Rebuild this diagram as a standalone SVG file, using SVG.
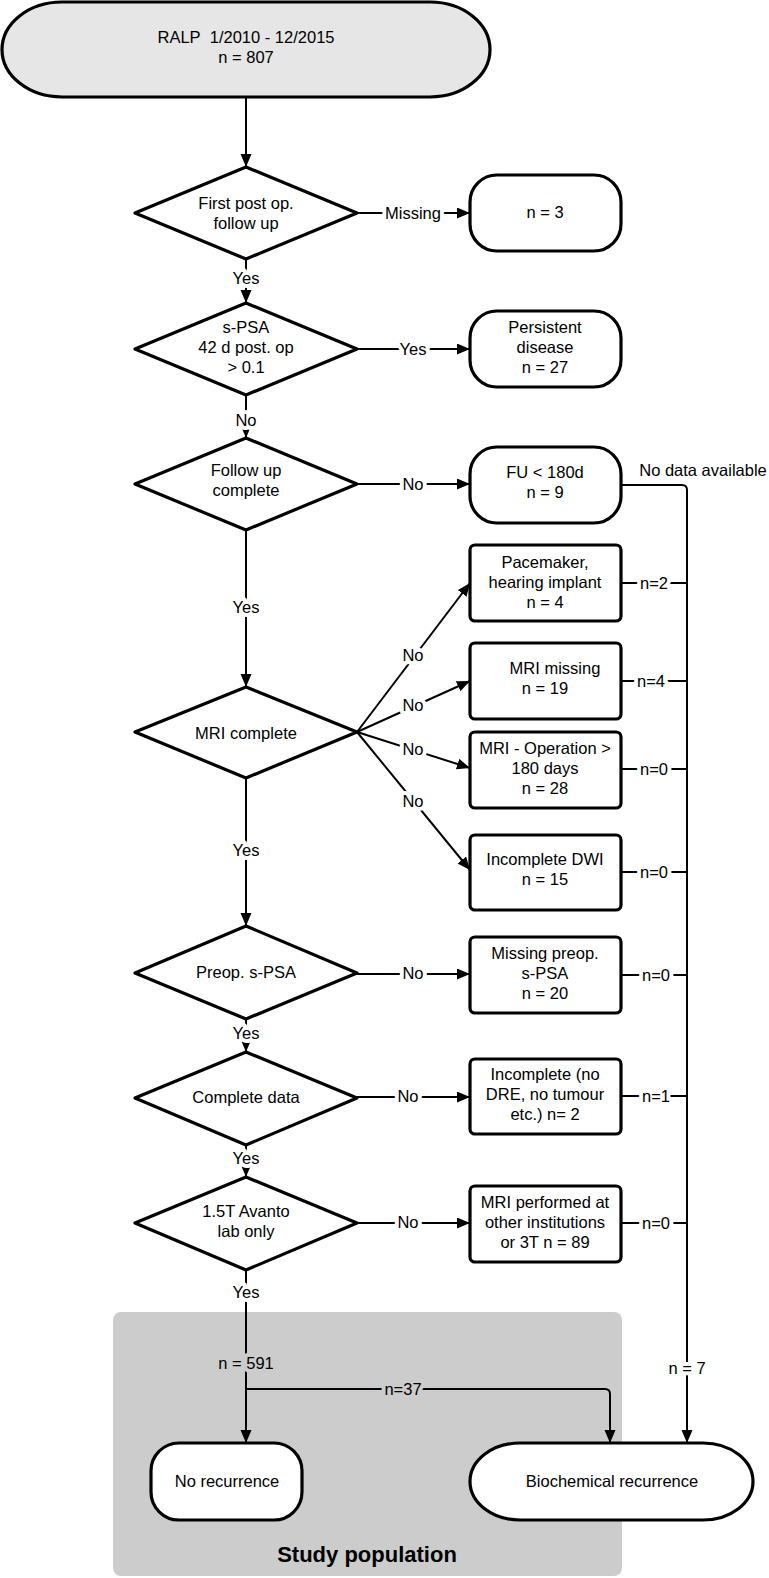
<svg xmlns="http://www.w3.org/2000/svg" width="769" height="1578" viewBox="0 0 769 1578">
<style>
.nd{fill:#fff;stroke:#000;stroke-width:3.2;stroke-linejoin:round}
.t{font-family:"Liberation Sans",Arial,sans-serif;font-size:16.5px;fill:#000;text-anchor:middle}
.c{fill:none;stroke:#000;stroke-width:2}
.l{font-family:"Liberation Sans",Arial,sans-serif;font-size:16.5px;fill:#000;text-anchor:middle;paint-order:stroke;stroke:#fff;stroke-width:8;stroke-linejoin:round}
.lg{stroke:#ccc}
</style>
<defs>
<marker id="ah" markerUnits="userSpaceOnUse" markerWidth="14" markerHeight="12" refX="13" refY="5.5" orient="auto" viewBox="0 0 14 12">
<path d="M0,0 L13,5.5 L0,11 z" fill="#000"/>
</marker>
</defs>
<rect id="study-population" x="113" y="1312" width="509" height="264" rx="8" fill="#ccc"/>
<g id="connectors">
<path class="c" d="M246,98 V167" stroke-width="3.2" marker-end="url(#ah)"/>
<path class="c" d="M357,213 H470" marker-end="url(#ah)"/>
<path class="c" d="M246,259 V303" marker-end="url(#ah)"/>
<path class="c" d="M357,349 H470" marker-end="url(#ah)"/>
<path class="c" d="M246,395 V438" marker-end="url(#ah)"/>
<path class="c" d="M357,484 H470" marker-end="url(#ah)"/>
<path class="c" d="M246,530 V687" marker-end="url(#ah)"/>
<path class="c" d="M357,732 L470,583" marker-end="url(#ah)"/>
<path class="c" d="M357,732 L470,681" marker-end="url(#ah)"/>
<path class="c" d="M357,732 L470,768" marker-end="url(#ah)"/>
<path class="c" d="M357,732 L470,870" marker-end="url(#ah)"/>
<path class="c" d="M246,778 V926" marker-end="url(#ah)"/>
<path class="c" d="M357,974 H470" marker-end="url(#ah)"/>
<path class="c" d="M246,1019 V1052" marker-end="url(#ah)"/>
<path class="c" d="M357,1097 H470" marker-end="url(#ah)"/>
<path class="c" d="M246,1145 V1177" marker-end="url(#ah)"/>
<path class="c" d="M357,1223 H470" marker-end="url(#ah)"/>
<path class="c" d="M246,1270 V1443" marker-end="url(#ah)"/>
<path class="c" d="M246,1389 H605 Q610,1389 610,1394 V1443" marker-end="url(#ah)"/>
<path class="c" d="M621,485 H682 Q687,485 687,490 V1443" marker-end="url(#ah)"/>
<path class="c" d="M621,583 H687 M621,681 H687 M621,769 H687 M621,872 H687 M621,975 H687 M621,1096 H687 M621,1223 H687"/>
<text class="l" x="413" y="219">Missing</text>
<text class="l" x="246" y="284">Yes</text>
<text class="l" x="413" y="355">Yes</text>
<text class="l" x="246" y="426">No</text>
<text class="l" x="413" y="490">No</text>
<text class="l" x="246" y="613">Yes</text>
<text class="l" x="413" y="661">No</text>
<text class="l" x="413" y="711">No</text>
<text class="l" x="413" y="755">No</text>
<text class="l" x="413" y="807">No</text>
<text class="l" x="246" y="856">Yes</text>
<text class="l" x="413" y="979">No</text>
<text class="l" x="246" y="1039">Yes</text>
<text class="l" x="408" y="1102">No</text>
<text class="l" x="246" y="1164">Yes</text>
<text class="l" x="408" y="1228">No</text>
<text class="l" x="246" y="1298">Yes</text>
<text class="l lg" x="246" y="1369">n = 591</text>
<text class="l lg" x="403" y="1395">n=37</text>
<text class="l" x="687" y="1374">n = 7</text>
<text class="l" x="654" y="589">n=2</text>
<text class="l" x="651" y="687">n=4</text>
<text class="l" x="654" y="775">n=0</text>
<text class="l" x="654" y="878">n=0</text>
<text class="l" x="656" y="981">n=0</text>
<text class="l" x="656" y="1102">n=1</text>
<text class="l" x="656" y="1229">n=0</text>
<text class="t" x="703" y="476">No data available</text>
</g>
<g id="start">
<rect class="nd" x="2" y="2" width="488" height="95" rx="60" ry="47.5" fill="#e6e6e6" style="fill:#e6e6e6"/>
<text class="t" x="246" y="43">RALP&#160; 1/2010 - 12/2015</text>
<text class="t" x="246" y="63">n = 807</text>
</g>
<g id="d-first-followup">
<polygon class="nd" points="246,167 357,213 246,259 135,213"/>
<text class="t" x="246" y="209">First post op.</text>
<text class="t" x="246" y="229">follow up</text>
</g>
<g id="n-missing">
<rect class="nd" x="470" y="175" width="151" height="76" rx="27"/>
<text class="t" x="545" y="218">n = 3</text>
</g>
<g id="d-spsa">
<polygon class="nd" points="246,303 357,349 246,395 135,349"/>
<text class="t" x="246" y="333">s-PSA</text>
<text class="t" x="246" y="353">42 d post. op</text>
<text class="t" x="246" y="373">&gt; 0.1</text>
</g>
<g id="n-persistent">
<rect class="nd" x="470" y="311" width="151" height="76" rx="27"/>
<text class="t" x="545" y="333">Persistent</text>
<text class="t" x="545" y="353">disease</text>
<text class="t" x="545" y="373">n = 27</text>
</g>
<g id="d-followup">
<polygon class="nd" points="246,438 357,484 246,530 135,484"/>
<text class="t" x="246" y="476">Follow up</text>
<text class="t" x="246" y="496">complete</text>
</g>
<g id="n-fu">
<rect class="nd" x="470" y="447" width="151" height="76" rx="27"/>
<text class="t" x="545" y="478">FU &lt; 180d</text>
<text class="t" x="545" y="498">n = 9</text>
</g>
<g id="n-pacemaker">
<rect class="nd" x="470" y="545" width="151" height="76" rx="5"/>
<text class="t" x="545" y="568">Pacemaker,</text>
<text class="t" x="545" y="588">hearing implant</text>
<text class="t" x="545" y="608">n = 4</text>
</g>
<g id="d-mri">
<polygon class="nd" points="246,687 357,732 246,778 135,732"/>
<text class="t" x="246" y="739">MRI complete</text>
</g>
<g id="n-mri-missing">
<rect class="nd" x="470" y="643" width="151" height="76" rx="5"/>
<text class="t" x="555" y="674">MRI missing</text>
<text class="t" x="545" y="694">n = 19</text>
</g>
<g id="n-mri-op">
<rect class="nd" x="470" y="732" width="151" height="76" rx="5"/>
<text class="t" x="545" y="754">MRI - Operation &gt;</text>
<text class="t" x="545" y="774">180 days</text>
<text class="t" x="545" y="794">n = 28</text>
</g>
<g id="n-dwi">
<rect class="nd" x="470" y="835" width="151" height="75" rx="5"/>
<text class="t" x="545" y="865">Incomplete DWI</text>
<text class="t" x="545" y="885">n = 15</text>
</g>
<g id="d-preop">
<polygon class="nd" points="246,926 357,973 246,1019 135,973"/>
<text class="t" x="246" y="978">Preop. s-PSA</text>
</g>
<g id="n-preop">
<rect class="nd" x="470" y="937" width="151" height="76" rx="5"/>
<text class="t" x="545" y="959">Missing preop.</text>
<text class="t" x="545" y="979">s-PSA</text>
<text class="t" x="545" y="999">n = 20</text>
</g>
<g id="d-complete">
<polygon class="nd" points="246,1052 357,1098 246,1145 135,1098"/>
<text class="t" x="246" y="1103">Complete data</text>
</g>
<g id="n-incomplete">
<rect class="nd" x="470" y="1059" width="151" height="75" rx="5"/>
<text class="t" x="545" y="1080">Incomplete (no</text>
<text class="t" x="545" y="1100">DRE, no tumour</text>
<text class="t" x="545" y="1120">etc.) n= 2</text>
</g>
<g id="d-avanto">
<polygon class="nd" points="246,1177 357,1223 246,1270 135,1223"/>
<text class="t" x="246" y="1217">1.5T Avanto</text>
<text class="t" x="246" y="1237">lab only</text>
</g>
<g id="n-other">
<rect class="nd" x="470" y="1186" width="151" height="76" rx="5"/>
<text class="t" x="545" y="1208">MRI performed at</text>
<text class="t" x="545" y="1228">other institutions</text>
<text class="t" x="545" y="1248">or 3T n = 89</text>
</g>
<g id="n-no-recurrence">
<rect class="nd" x="151" y="1443" width="151" height="77" rx="28"/>
<text class="t" x="227" y="1487">No recurrence</text>
</g>
<g id="n-bcr">
<rect class="nd" x="470" y="1443" width="283" height="77" rx="50" ry="38.5"/>
<text class="t" x="612" y="1487">Biochemical recurrence</text>
</g>
<text x="367" y="1562" font-family="Liberation Sans, Arial, sans-serif" font-size="22" font-weight="bold" text-anchor="middle" fill="#000">Study population</text>
</svg>
